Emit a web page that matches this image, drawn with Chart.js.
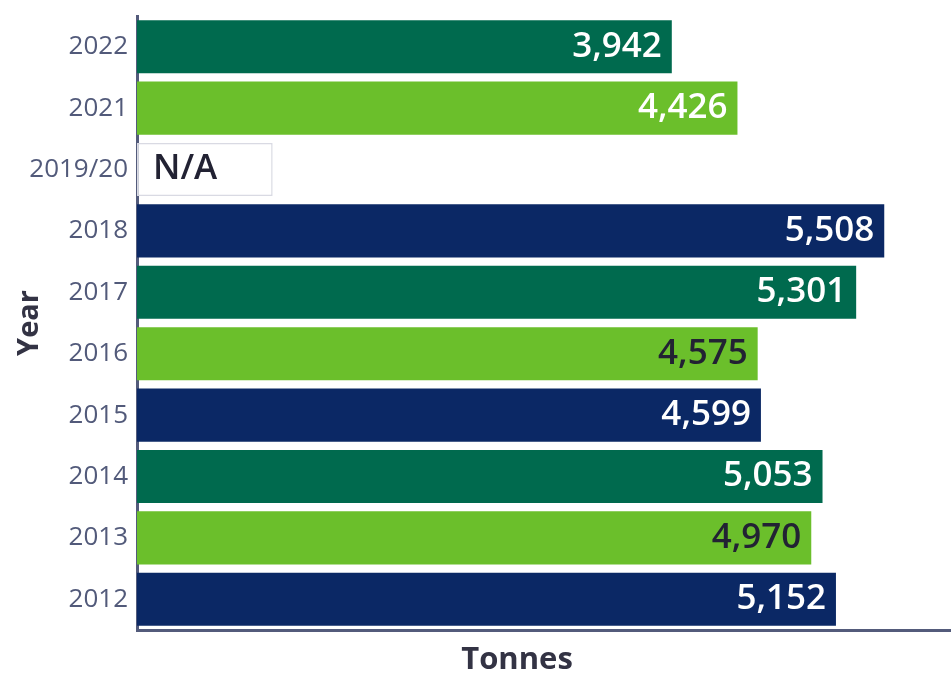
<!DOCTYPE html>
<html>
<head>
<meta charset="utf-8">
<script src="https://cdn.jsdelivr.net/npm/chart.js@4"></script>
<style>
  body { margin: 0; background: #fff; }
  #wrap { width: 951px; height: 674px; position: relative; }
</style>
</head>
<body>
<div id="wrap"><canvas id="chart"></canvas></div>
<script>
// data, top to bottom
var years = ["2022", "2021", "2019/20", "2018", "2017", "2016", "2015", "2014", "2013", "2012"];
var tonnes = [3942, 4426, null, 5508, 5301, 4575, 4599, 5053, 4970, 5152];
// placeholder box drawn where no figure exists
var naBox = [null, null, 1000, null, null, null, null, null, null, null];

var DARK_GREEN = '#006a4e';
var LIGHT_GREEN = '#6bbf2b';
var NAVY = '#0b2865';
var barColors = [DARK_GREEN, LIGHT_GREEN, '#ffffff', NAVY, DARK_GREEN, LIGHT_GREEN, NAVY, DARK_GREEN, LIGHT_GREEN, NAVY];
var labelColors = ['#ffffff', '#ffffff', '#222233', '#ffffff', '#ffffff', '#222233', '#ffffff', '#ffffff', '#222233', '#ffffff'];

var AXIS = '#535b7b';

var valueLabels = {
    id: 'valueLabels',
    afterDatasetsDraw: function(chart)
    {
        var ctx = chart.ctx;
        var meta = chart.getDatasetMeta(0);
        var naMeta = chart.getDatasetMeta(1);
        ctx.save();
        ctx.font = '600 35px "Open Sans"';
        ctx.textBaseline = 'middle';
        meta.data.forEach(function(bar, i) {
            ctx.fillStyle = labelColors[i];
            if (tonnes[i] === null) {
                var box = naMeta.data[i];
                ctx.textAlign = 'left';
                ctx.fillText('N/A', box.base + 16, box.y);
                return;
            }
            ctx.textAlign = 'right';
            ctx.fillText(tonnes[i].toLocaleString('en-US'), bar.x - 10, bar.y);
        });

        // x axis title, sits a little left of the plot centre in the original
        ctx.fillStyle = '#333344';
        ctx.font = 'bold 31px "Open Sans"';
        ctx.textAlign = 'center';
        ctx.fillText('Tonnes', 517, chart.chartArea.bottom + 30);
        ctx.restore();
    }
};

new Chart(document.getElementById('chart'), {
    type: 'bar',
    data: {
        labels: years,
        datasets: [{
            data: tonnes,
            backgroundColor: barColors,
            borderWidth: 0,
            barPercentage: 0.865,
            categoryPercentage: 1
        }, {
            data: naBox,
            backgroundColor: '#ffffff',
            borderColor: '#d9dae3',
            borderWidth: 1.5,
            borderSkipped: false,
            barPercentage: 0.865,
            categoryPercentage: 1
        }]
    },
    options: {
        indexAxis: 'y',
        responsive: true,
        maintainAspectRatio: false,
        animation: false,
        layout: {padding: {top: 16, right: 0, bottom: 0, left: 0}},
        plugins: {
            legend: {display: false},
            tooltip: {enabled: false}
        },
        scales: {
            x: {
                stacked: true,
                min: 0,
                max: 6000,
                grid: {display: false, drawTicks: false},
                border: {display: true, color: AXIS, width: 3},
                ticks: {display: false},
                title: {display: false},
                afterFit: function(scale) {
                    scale.height = 44;
                    scale.paddingLeft = 0;
                    scale.paddingRight = 0;
                }
            },
            y: {
                stacked: true,
                grid: {display: false, drawTicks: false},
                border: {display: true, color: AXIS, width: 3},
                ticks: {
                    color: '#525a7a',
                    font: {family: 'Open Sans', size: 26},
                    padding: 9
                },
                title: {
                    display: true,
                    text: 'Year',
                    color: '#333344',
                    font: {family: 'Open Sans', size: 29, weight: 'bold'},
                    padding: {top: 12, bottom: 0}
                },
                afterFit: function(scale) {
                    scale.width = 137;
                    scale.paddingTop = 0;
                    scale.paddingBottom = 0;
                }
            }
        }
    },
    plugins: [valueLabels]
});
</script>
</body>
</html>
